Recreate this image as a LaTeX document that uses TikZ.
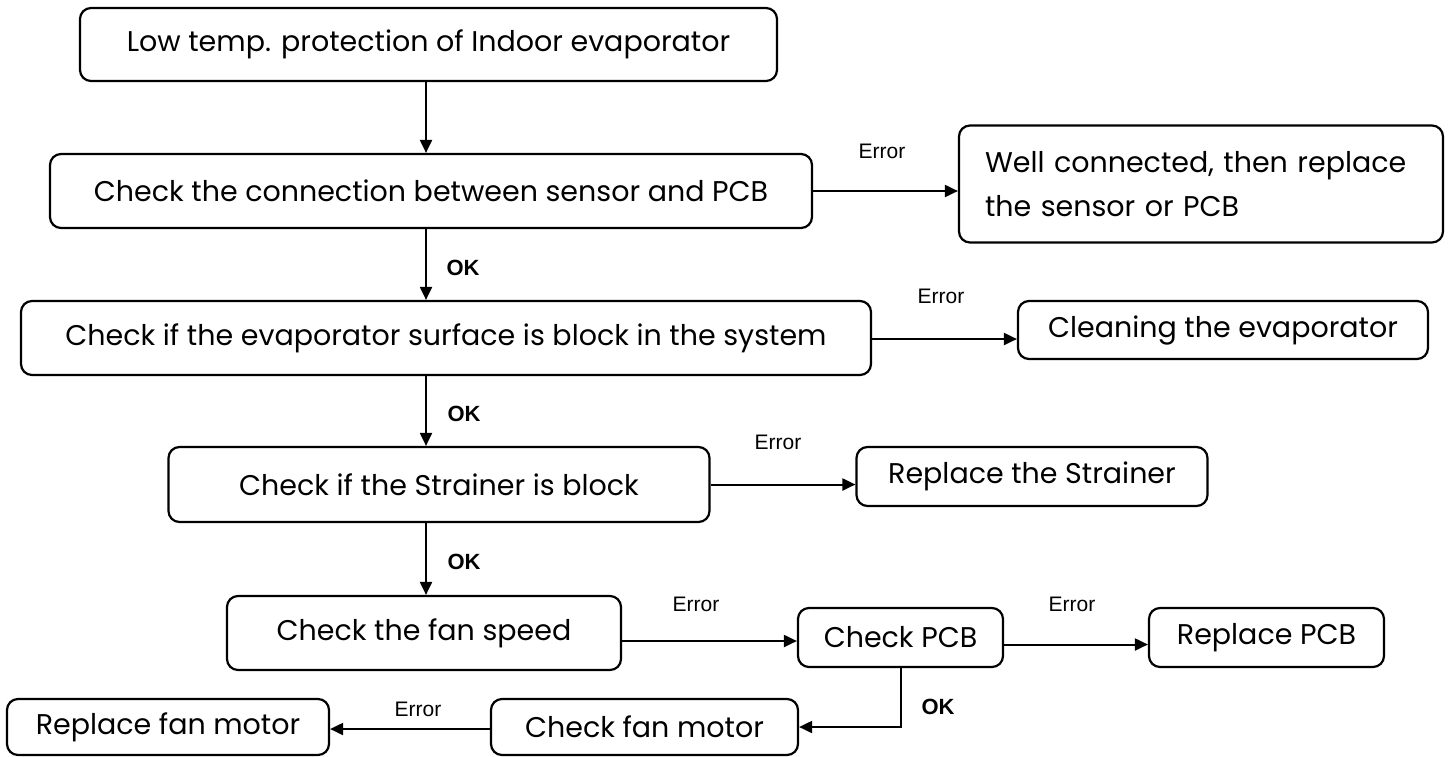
\documentclass[tikz,border=0pt]{standalone}
\usepackage{fontspec}
\setmainfont{Poppins}
\newfontfamily\lab{Liberation Sans}
\usetikzlibrary{arrows.meta}
\begin{document}
\begin{tikzpicture}[x=1pt,y=-1pt,
  box/.style={draw,line width=2.2pt,rounded corners=11pt,inner sep=0pt,align=center,font=\fontsize{28.5}{34}\selectfont},
  arr/.style={line width=2pt,-{Triangle[length=13pt,width=12pt]}},
  err/.style={font=\lab\fontsize{21}{24}\selectfont,inner sep=0pt},
  ok/.style={font=\lab\bfseries\fontsize{22}{24}\selectfont,inner sep=0pt}]
\useasboundingbox[fill=white] (0,0) rectangle (1450,756);
\coordinate (col) at (426,0);
\node[box,minimum width=697pt,minimum height=73pt] (b1) at (428.5,44.5) {Low temp. protection of Indoor evaporator};
\node[box,minimum width=762pt,minimum height=74pt] (b2) at (431,191) {Check the connection between sensor and PCB};
\node[box,minimum width=484pt,minimum height=117pt,text width=432pt,align=left,font=\fontsize{28.5}{44}\selectfont] (wc) at (1201,184) {Well connected, then replace\\the sensor or PCB};
\node[box,minimum width=850pt,minimum height=74pt] (b3) at (446,338) {Check if the evaporator surface is block in the system};
\node[box,minimum width=410pt,minimum height=58pt] (cl) at (1223,330) {Cleaning the evaporator};
\node[box,minimum width=541pt,minimum height=75pt] (b4) at (439,484.5) {Check if the Strainer is block};
\node[box,minimum width=351pt,minimum height=59pt] (rs) at (1032,476.5) {Replace the Strainer};
\node[box,minimum width=394pt,minimum height=74pt] (fs) at (424,633) {Check the fan speed};
\node[box,minimum width=205pt,minimum height=59pt] (cp) at (900.5,637.5) {Check PCB};
\node[box,minimum width=235pt,minimum height=59pt] (rp) at (1266.5,637.5) {Replace PCB};
\node[box,minimum width=322pt,minimum height=56pt] (rfm) at (168,727) {Replace fan motor};
\node[box,minimum width=307pt,minimum height=56pt] (cfm) at (644.5,727) {Check fan motor};
\draw[arr] (b1.south -| col) -- (b2.north -| col);
\draw[arr] (b2.south -| col) -- (b3.north -| col);
\draw[arr] (b3.south -| col) -- (b4.north -| col);
\draw[arr] (b4.south -| col) -- (fs.north -| col);
\draw[arr] (b2.east) -- (b2.east -| wc.west);
\draw[arr] ([yshift=-1pt]b3.east) -- ([yshift=-1pt]b3.east -| cl.west);
\draw[arr] (b4.east) -- (b4.east -| rs.west);
\draw[arr] ([yshift=-8pt]fs.east) -- ([yshift=-8pt]fs.east -| cp.west);
\draw[arr] ([yshift=-7pt]cp.east) -- ([yshift=-7pt]cp.east -| rp.west);
\draw[arr] (cp.south) |- (cfm.east);
\draw[arr] ([yshift=-2pt]cfm.west) -- ([yshift=-2pt]cfm.west -| rfm.east);
\node[err] (e1) at (882,151) {Error};
\node[err] (e2) at (941,296) {Error};
\node[err] (e3) at (778,442) {Error};
\node[err] (e4) at (696,604) {Error};
\node[err] (e5) at (1072,604) {Error};
\node[err] (e6) at (418,709) {Error};
\node[ok] (o1) at (463,268) {OK};
\node[ok] (o2) at (464,414) {OK};
\node[ok] (o3) at (464,562) {OK};
\node[ok] (o4) at (938,707) {OK};
\end{tikzpicture}
\end{document}
